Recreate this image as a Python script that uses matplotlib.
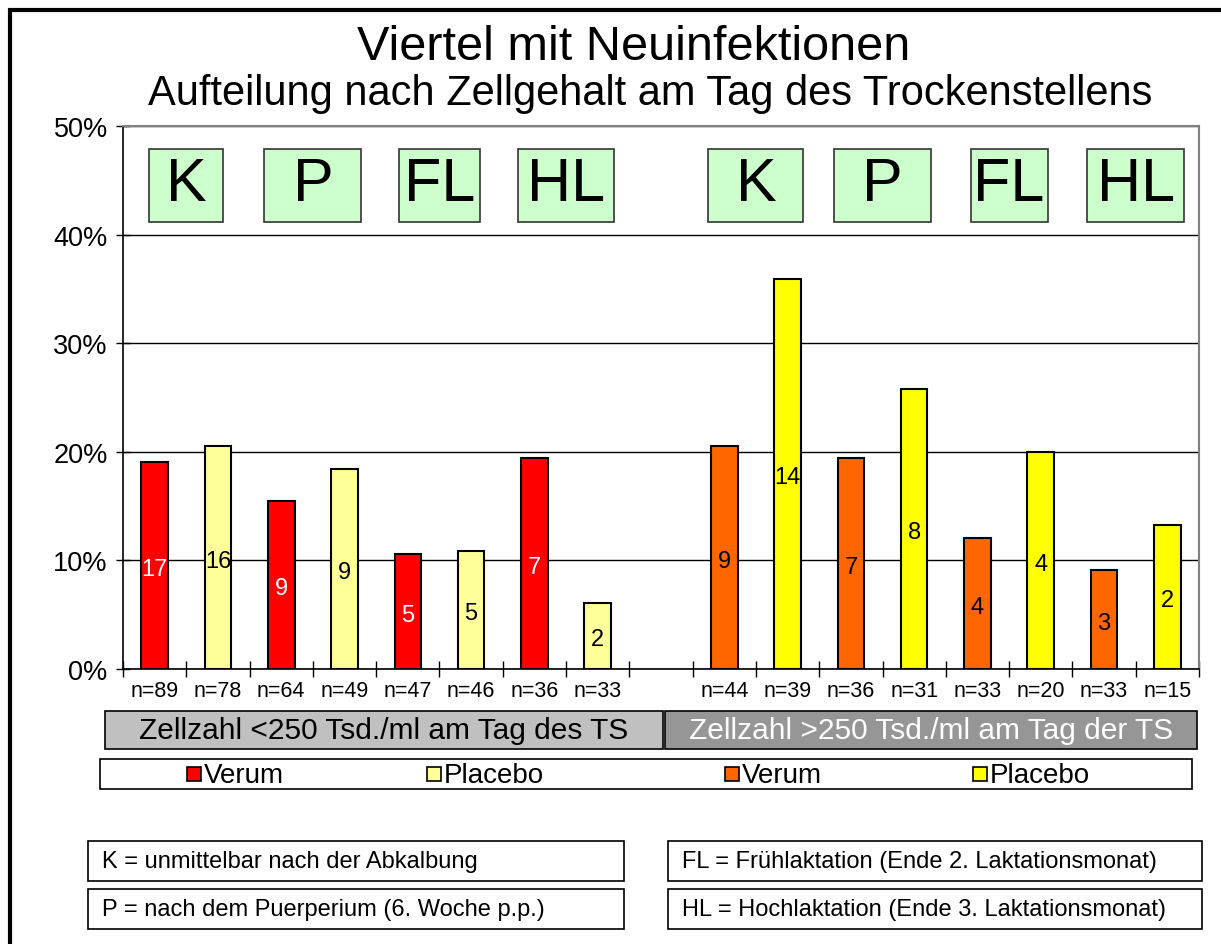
import matplotlib.pyplot as plt
from matplotlib.patches import Rectangle
from matplotlib.lines import Line2D
import matplotlib.transforms as mtransforms

plt.rcParams['font.family'] = ['Liberation Sans', 'DejaVu Sans']

# data
n_low = [89, 78, 64, 49, 47, 46, 36, 33]
n_high = [44, 39, 36, 31, 33, 20, 33, 15]
cases_low = [17, 16, 9, 9, 5, 5, 7, 2]
cases_high = [9, 14, 7, 8, 4, 4, 3, 2]
pct_low = [19.1, 20.5, 15.5, 18.4, 10.6, 10.9, 19.4, 6.1]
pct_high = [20.5, 35.9, 19.4, 25.8, 12.1, 20.0, 9.1, 13.3]
phases = ['K', 'P', 'FL', 'HL']
phase_box_w = [1.17, 1.53, 1.28, 1.52, 1.5, 1.52, 1.22, 1.53]
group_labels = ['Zellzahl <250 Tsd./ml am Tag des TS', 'Zellzahl >250 Tsd./ml am Tag der TS']
legend_labels = ['Verum', 'Placebo', 'Verum', 'Placebo']
notes = ['K = unmittelbar nach der Abkalbung',
         'P = nach dem Puerperium (6. Woche p.p.)',
         'FL = Frühlaktation (Ende 2. Laktationsmonat)',
         'HL = Hochlaktation (Ende 3. Laktationsmonat)']

col_low = ['#ff0000', '#ffff99']
col_high = ['#ff6600', '#ffff00']

W, H = 1221, 945
fig = plt.figure(figsize=(W / 100, H / 100), dpi=100)


def fx(x):
    return x / W


def fy(y):
    return 1 - y / H


def frect(x0, y0, x1, y1, **kw):
    r = Rectangle((fx(x0), fy(y1)), fx(x1) - fx(x0), fy(y0) - fy(y1),
                  transform=fig.transFigure, **kw)
    fig.add_artist(r)
    return r


# outer frame (left and top edge)
fig.add_artist(Line2D([fx(10), fx(10), fx(1221)], [fy(945), fy(11), fy(11)],
                      transform=fig.transFigure, color='black', lw=3,
                      solid_joinstyle='miter'))

fig.text(fx(634), fy(48), 'Viertel mit Neuinfektionen', ha='center', va='center', fontsize=35)
fig.text(fx(650), fy(94), 'Aufteilung nach Zellgehalt am Tag des Trockenstellens',
         ha='center', va='center', fontsize=30)

ax = fig.add_axes([fx(123), fy(670), fx(1199) - fx(123), fy(127) - fy(670)])

pct = pct_low + [None] + pct_high
cases = cases_low + [None] + cases_high
ns = n_low + [None] + n_high
colors = col_low * 4 + [None] + col_high * 4

for i, v in enumerate(pct):
    if v is None:
        continue
    x = i + 0.5
    ax.bar(x, v, width=0.42, color=colors[i], edgecolor='black', lw=1.5, zorder=3)
    tc = 'white' if colors[i] == '#ff0000' else 'black'
    ax.text(x, v / 2 - 0.3, str(cases[i]), ha='center', va='center', fontsize=17, color=tc, zorder=4)
    ax.text(x, -0.04, 'n=%d' % ns[i], ha='center', va='center', fontsize=15.5,
            transform=mtransforms.blended_transform_factory(ax.transData, ax.transAxes))

# phase boxes
centers = [1, 3, 5, 7, 10, 12, 14, 16]
for j, c in enumerate(centers):
    w = phase_box_w[j]
    ax.add_patch(Rectangle((c - w / 2, 41.2), w, 6.7, facecolor='#ccffcc',
                           edgecolor='#333333', lw=1.2, zorder=3))
    ax.text(c, 44.6, phases[j % 4], ha='center', va='center', fontsize=44, zorder=4)

ax.set_xlim(0, 17)
ax.set_ylim(0, 50)
ax.set_yticks(range(0, 51, 10))
ax.set_yticklabels(['%d%%' % t for t in range(0, 51, 10)], fontsize=19.5)
ax.set_xticks(range(0, 18))
ax.set_xticklabels([])
ax.tick_params(axis='x', direction='inout', length=12, width=1)
ax.tick_params(axis='y', direction='inout', length=10, width=1, pad=6)
ax.yaxis.grid(True, color='black', lw=1)
ax.set_axisbelow(True)
for s in ['top', 'right']:
    ax.spines[s].set_color('#808080')
    ax.spines[s].set_linewidth(1.5)
for s in ['left', 'bottom']:
    ax.spines[s].set_linewidth(1.2)

# group label boxes
frect(105, 712, 663, 750, facecolor='#c0c0c0', edgecolor='black', lw=1.2)
fig.text(fx(384), fy(731), group_labels[0], ha='center', va='center', fontsize=21.5)
frect(665, 712, 1197, 750, facecolor='#969696', edgecolor='black', lw=1.2)
fig.text(fx(931), fy(731), group_labels[1], ha='center', va='center', fontsize=21.5, color='white')

# legend box
frect(100, 760, 1192, 790, facecolor='white', edgecolor='black', lw=1.2)
leg_x = [187, 427, 725, 973]
leg_cols = col_low + col_high
for k in range(4):
    frect(leg_x[k], 768, leg_x[k] + 14, 782, facecolor=leg_cols[k], edgecolor='black', lw=1.2)
    fig.text(fx(leg_x[k] + 17), fy(776), legend_labels[k], ha='left', va='center', fontsize=20)

# explanation boxes
box_pos = [(88, 842, 624, 882), (88, 890, 624, 930), (668, 842, 1202, 882), (668, 890, 1202, 930)]
for note, (x0, y0, x1, y1) in zip(notes, box_pos):
    frect(x0, y0, x1, y1, facecolor='white', edgecolor='black', lw=1.2)
    fig.text(fx(x0 + 14), fy((y0 + y1) / 2), note, ha='left', va='center', fontsize=17)

fig.savefig('out.png', dpi=100)
